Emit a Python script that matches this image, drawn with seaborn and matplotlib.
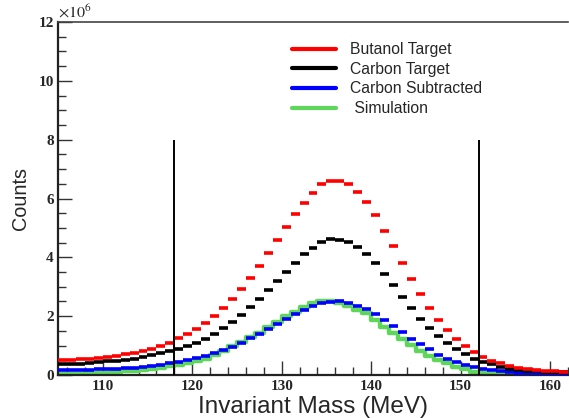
import numpy as np
import pandas as pd
import seaborn as sns
import matplotlib
matplotlib.use("Agg")
import matplotlib.pyplot as plt
from matplotlib.lines import Line2D
from matplotlib.ticker import MultipleLocator

# ---- data (counts in units of 10^6) ----
bin_centers = [105.5 + i for i in range(57)]
butanol = [0.50, 0.52, 0.54, 0.56, 0.59, 0.62, 0.66, 0.70, 0.75, 0.81, 0.88, 0.97, 1.10,
           1.26, 1.39, 1.56, 1.77, 2.00, 2.28, 2.60, 2.92, 3.30, 3.71, 4.14, 4.58,
           5.03, 5.46, 5.86, 6.20, 6.49, 6.60, 6.60, 6.49, 6.22, 5.88, 5.45,
           4.91, 4.39, 3.82, 3.28, 2.77, 2.28, 1.88, 1.52, 1.22, 0.98, 0.77,
           0.60, 0.49, 0.40, 0.32, 0.25, 0.20, 0.16, 0.14, 0.12, 0.10]
carbon = [0.36, 0.37, 0.39, 0.41, 0.43, 0.46, 0.49, 0.52, 0.56, 0.61, 0.67, 0.74, 0.82,
          0.90, 0.99, 1.10, 1.24, 1.41, 1.61, 1.80, 2.03, 2.30, 2.57, 2.88, 3.20,
          3.51, 3.82, 4.11, 4.33, 4.51, 4.63, 4.59, 4.51, 4.36, 4.11, 3.80,
          3.42, 3.05, 2.65, 2.29, 1.92, 1.61, 1.33, 1.08, 0.87, 0.70, 0.55,
          0.43, 0.36, 0.28, 0.22, 0.18, 0.15, 0.13, 0.11, 0.10, 0.10]
subtracted = [0.16, 0.16, 0.17, 0.18, 0.19, 0.20, 0.21, 0.23, 0.25, 0.28, 0.31, 0.35, 0.40,
              0.44, 0.51, 0.59, 0.66, 0.75, 0.84, 0.95, 1.09, 1.25, 1.41, 1.55, 1.72,
              1.89, 2.06, 2.20, 2.35, 2.46, 2.48, 2.52, 2.46, 2.35, 2.23, 2.06,
              1.87, 1.67, 1.46, 1.24, 1.04, 0.87, 0.69, 0.55, 0.44, 0.35, 0.27,
              0.21, 0.16, 0.12, 0.09, 0.07, 0.06, 0.05, 0.05, 0.04, 0.04]
simulation = [0.03, 0.04, 0.05, 0.06, 0.07, 0.08, 0.10, 0.12, 0.14, 0.17, 0.20, 0.24, 0.29,
              0.33, 0.40, 0.47, 0.55, 0.68, 0.83, 0.98, 1.12, 1.28, 1.43, 1.63, 1.79,
              1.99, 2.13, 2.31, 2.46, 2.52, 2.52, 2.46, 2.35, 2.21, 2.10, 1.88,
              1.64, 1.42, 1.21, 1.02, 0.83, 0.65, 0.51, 0.40, 0.28, 0.19, 0.11,
              0.06, 0.04, 0.03, 0.02, 0.02, 0.01, 0.01, 0.01, 0.0, 0.0]
cut_lines = [118, 152]
cut_height = 8.0
labels = ["Butanol Target", "Carbon Target", "Carbon Subtracted", " Simulation"]
colors = ["#ff0000", "#000000", "#0000ff", "#5ed65a"]
bin_width = 1.0

df = pd.DataFrame({"mass": bin_centers, "butanol": butanol, "carbon": carbon,
                   "subtracted": subtracted, "simulation": simulation})

sns.set_style("white")
plt.rcParams["mathtext.fontset"] = "stix"

fig = plt.figure(figsize=(5.69, 4.18), dpi=100)
ax = fig.add_axes([58 / 569, 43 / 418, 510 / 569, 353 / 418])

lo = bin_centers[0] - bin_width / 2
hi = bin_centers[-1] + bin_width / 2

# simulation as step histogram
sns.histplot(data=df, x="mass", weights="simulation", binwidth=bin_width,
             binrange=(lo, hi), element="step",
             fill=False, color=colors[3], linewidth=3.2, ax=ax)

# others as horizontal bin markers
for col, c in zip(["subtracted", "carbon", "butanol"], [colors[2], colors[1], colors[0]]):
    ax.hlines(df[col], df["mass"] - bin_width / 2, df["mass"] + bin_width / 2,
              colors=c, linewidth=2.6, zorder=3)

for xv in cut_lines:
    ax.vlines(xv, 0, cut_height, colors="black", linewidth=1.4, zorder=4)

ax.set_xlim(105, 162)
ax.set_ylim(0, 12)
ax.xaxis.set_major_locator(MultipleLocator(10))
ax.xaxis.set_minor_locator(MultipleLocator(2))
ax.yaxis.set_major_locator(MultipleLocator(2))
ax.yaxis.set_minor_locator(MultipleLocator(0.5))
ax.tick_params(axis="both", which="major", direction="in", length=10, width=1.0,
               color="#333333", bottom=True, left=True, top=False, right=False)
ax.tick_params(axis="both", which="minor", direction="in", length=5.5, width=1.0,
               color="#333333", bottom=True, left=True, top=False, right=False)
ax.tick_params(axis="y", which="major", pad=3)
ax.tick_params(axis="x", which="major", pad=3.5)
ax.set_yticks([0, 2, 4, 6, 8, 10, 12])
ax.set_yticklabels(["0", "2", "4", "6", "8", "10", "12"], fontfamily="Liberation Serif",
                   fontweight="bold", fontsize=11)
ax.set_xticks([110, 120, 130, 140, 150, 160])
ax.set_xticklabels(["110", "120", "130", "140", "150", "160"], fontfamily="Liberation Serif",
                   fontweight="bold", fontsize=11)

for s in ["left", "bottom"]:
    ax.spines[s].set_linewidth(1.6)
    ax.spines[s].set_color("#222222")
ax.spines["top"].set_linewidth(1.2)
ax.spines["top"].set_color("#444444")
ax.spines["right"].set_visible(False)

ax.set_xlabel("Invariant Mass (MeV)", fontfamily="Liberation Sans", fontsize=17.5)
ax.xaxis.set_label_coords(0.5, -0.06)
ax.set_ylabel("Counts", fontfamily="Liberation Sans", fontsize=14.3)
ax.yaxis.set_label_coords(-0.055, 0.5)

ax.text(0.0, 1.003, r"$\times10^{6}$", transform=ax.transAxes, ha="left", va="bottom",
        fontsize=11.5)

handles = [Line2D([], [], color=c, linewidth=3) for c in colors]
leg = ax.legend(handles, labels, loc="upper left", bbox_to_anchor=(234 / 510, 1 - 20 / 353),
                frameon=False, prop={"family": "Liberation Sans", "size": 11.3},
                handlelength=2.8, handletextpad=0.9, labelspacing=0.3,
                borderaxespad=0, borderpad=0)

fig.savefig("out.png", dpi=100)
